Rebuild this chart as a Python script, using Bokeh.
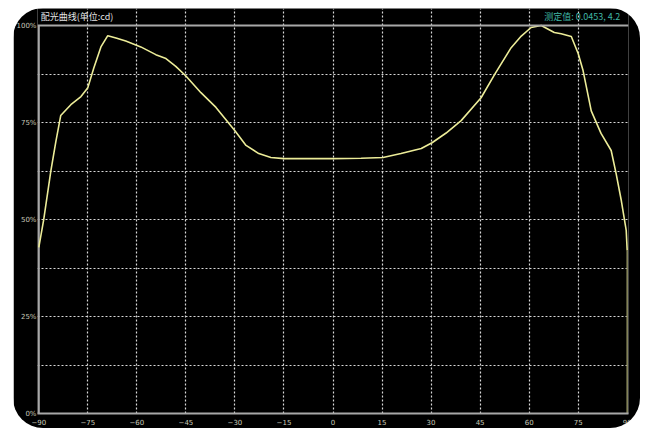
from bokeh.plotting import figure
from bokeh.models import FixedTicker, Span, Label, Range1d
from bokeh.embed import file_html
from bokeh.resources import INLINE

# ---- data ----
angles = [-90, -88.5, -86.3, -84.8, -83.3, -80.2, -77.1, -75, -73.2, -71, -68.9,
          -66.4, -63.4, -58.8, -54.2, -51.1, -48.1, -45, -40.4, -35.8, -30, -26.6,
          -22.7, -19, -15, 0, 8.6, 15.3, 20.8, 27, 30.3, 34.6, 39.2, 45.3, 49.6,
          54.5, 57.6, 60.6, 63.7, 67.7, 69.8, 72.9, 75, 76.5, 79, 82, 85.1, 86.6,
          88.2, 89.7, 90]
intensity = [42.8, 50, 62.6, 70, 76.8, 79.6, 81.7, 84, 89, 94.5, 97.4,
             96.8, 96, 94.5, 92.5, 91.5, 89.5, 87, 82.7, 78.9, 72.9, 69.1,
             67, 66, 65.7, 65.7, 65.8, 66, 67, 68.3, 69.8, 72.3, 75.5, 81.4, 87.6,
             94.3, 97.3, 99.5, 100, 98.2, 97.9, 97.2, 92.8, 88.4, 78, 72.2, 67.8, 61.9,
             54.9, 47.2, 42]
x_ticks = [-90, -75, -60, -45, -30, -15, 0, 15, 30, 45, 60, 75, 90]
y_ticks = [0, 25, 50, 75, 100]
y_tick_labels = ["0%", "25%", "50%", "75%", "100%"]
y_grid = [12.5, 25, 37.5, 50, 62.5, 75, 87.5]
x_grid = [-75, -60, -45, -30, -15, 0, 15, 30, 45, 60, 75]
title_text = "配光曲线(单位:cd)"
reading_text = "测定值: 0.0453, 4.2"

# the frame is extended above 100% so the header texts can live inside it
p = figure(width=627, height=420, output_backend="svg", toolbar_location=None,
           x_range=Range1d(-90.4, 90.4), y_range=Range1d(0, 104.4),
           min_border_left=23, min_border_right=12, min_border_top=0,
           min_border_bottom=15, margin=(8, 0, 0, 13))
p.background_fill_color = "black"
p.border_fill_color = "black"
p.outline_line_color = None
p.styles = {"border-radius": "30px", "overflow": "hidden"}

# axes
p.xaxis.ticker = FixedTicker(ticks=x_ticks)
p.yaxis.ticker = FixedTicker(ticks=y_ticks)
p.yaxis.major_label_overrides = {t: l for t, l in zip(y_ticks, y_tick_labels)}
for ax in (p.xaxis[0], p.yaxis[0]):
    ax.axis_line_color = "#a8a8a8"
    ax.axis_line_width = 2
    ax.major_tick_line_color = None
    ax.minor_tick_line_color = None
    ax.major_tick_out = 0
    ax.major_tick_in = 0
    ax.minor_tick_out = 0
    ax.major_label_text_font = "DejaVu Sans"
    ax.major_label_text_font_size = "7px"
    ax.major_label_text_color = "#c8c8b8"
p.yaxis.axis_line_color = None
p.xaxis.major_label_standoff = 5
p.yaxis.major_label_standoff = 1

# grids
p.xgrid.ticker = FixedTicker(ticks=x_grid)
p.ygrid.ticker = FixedTicker(ticks=y_grid)
for g in (p.xgrid[0], p.ygrid[0]):
    g.grid_line_color = "#d8d8d8"
    g.grid_line_dash = "2 2"
    g.grid_line_width = 1.2

# frame: top line at 100 % and left border from 0 % to 100 %
p.add_layout(Span(location=y_ticks[-1], dimension="width", line_color="#a8a8a8", line_width=2))
p.segment(x0=[x_ticks[0]], y0=[y_ticks[0]], x1=[x_ticks[0]], y1=[y_ticks[-1]],
          line_color="#a8a8a8", line_width=2)

# curve
p.line(angles, intensity, line_color="#ecec98", line_width=1.6)
# drop at the end of the curve
p.segment(x0=[angles[-1]], y0=[intensity[-1]], x1=[angles[-1]], y1=[y_ticks[0]],
          line_color="#8c8c60", line_width=1.5)

# header texts
p.add_layout(Label(x=-89.4, y=102.3, text=title_text, text_font="Noto Sans CJK SC",
                   text_font_size="9px", text_color="#e4e4e4", text_baseline="middle"))
p.add_layout(Label(x=64.6, y=102.3, text=reading_text, text_font="Noto Sans CJK SC",
                   text_font_size="9px", text_color="#3fb5a5", text_baseline="middle"))

open("out.html", "w").write(file_html(p, INLINE))
